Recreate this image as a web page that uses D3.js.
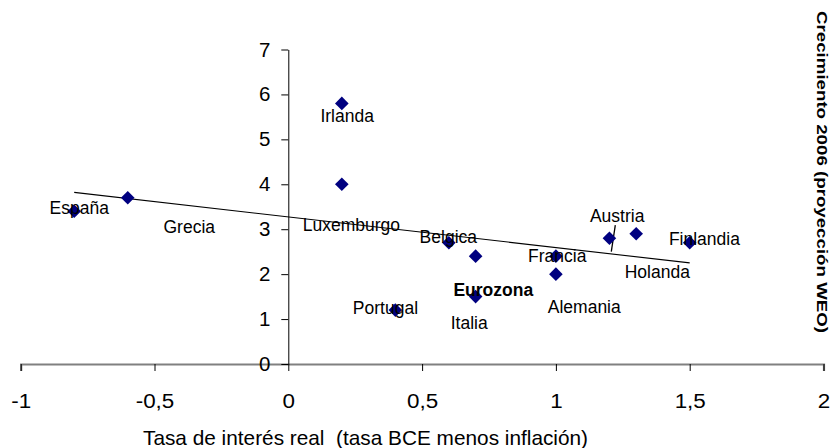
<!DOCTYPE html>
<html>
<head>
<meta charset="utf-8">
<script src="https://cdn.jsdelivr.net/npm/d3@7"></script>
<style>
  html, body { margin: 0; padding: 0; background: #fff; }
  svg { display: block; }
  svg text { font-family: Arial, "Liberation Sans", Helvetica, sans-serif; white-space: pre; }
</style>
</head>
<body>
<svg id="chart" width="836" height="448"></svg>
<script>
// ---- data ----
const countries = ["España","Grecia","Irlanda","Luxemburgo","Portugal","Belgica","Eurozona","Italia","Francia","Alemania","Austria","Holanda","Finlandia"];
const realRate  = [-0.8, -0.6, 0.2, 0.2, 0.4, 0.6, 0.7, 0.7, 1.0, 1.0, 1.2, 1.3, 1.5];
const growth    = [3.4, 3.7, 5.8, 4.0, 1.2, 2.7, 2.4, 1.5, 2.4, 2.0, 2.8, 2.9, 2.7];
// label anchor positions, in data units
const labelX    = [-0.781, -0.37, 0.22, 0.236, 0.363, 0.598, 0.766, 0.676, 1.005, 1.106, 1.229, 1.379, 1.555];
const labelY    = [3.47, 3.05, 5.52, 3.09, 1.25, 2.83, 1.65, 0.93, 2.40, 1.27, 3.29, 2.05, 2.78];
// trend line endpoints
const trendX = [-0.8, 1.5];
const trendY = [3.82, 2.25];
// Austria leader line
const leaderX = [1.222, 1.207];
const leaderY = [3.09, 2.50];
// axes
const xTickValues = [-1, -0.5, 0, 0.5, 1, 1.5, 2];
const xTickLabels = ["-1", "-0,5", "0", "0,5", "1", "1,5", "2"];
const yTickValues = [0, 1, 2, 3, 4, 5, 6, 7];
const xTitle = "Tasa de interés real  (tasa BCE menos inflación)";
const yTitle = "Crecimiento 2006 (proyección WEO)";

// ---- drawing ----
const FONT = "Arial, 'Liberation Sans', Helvetica, sans-serif";
const svg = d3.select("#chart");
const x = d3.scaleLinear().domain([-1, 2]).range([20.7, 823.5]);
const y = d3.scaleLinear().domain([0, 7]).range([364, 49.5]);

// x axis
const xAxis = svg.append("g").attr("transform", `translate(0,${y(0)})`)
  .call(d3.axisBottom(x).tickValues(xTickValues).tickSize(7).tickPadding(23)
        .tickFormat((d, i) => xTickLabels[i]));
xAxis.attr("font-family", FONT);
xAxis.select(".domain").attr("stroke", "#808080").attr("stroke-width", 2.2);
xAxis.selectAll(".tick line").attr("stroke", "#000").attr("stroke-width", 1);
xAxis.selectAll(".tick text")
  .attr("font-size", 20).attr("fill", "#000")
  .each(function() {
    const w = this.getComputedTextLength();
    d3.select(this).attr("textLength", w * 1.12).attr("lengthAdjust", "spacingAndGlyphs");
  });

// y axis
const yAxis = svg.append("g").attr("transform", `translate(${x(0)},0)`)
  .call(d3.axisLeft(y).tickValues(yTickValues).tickSize(7).tickPadding(11).tickSizeOuter(0)
        .tickFormat(d3.format("d")));
yAxis.attr("font-family", FONT);
yAxis.select(".domain").attr("stroke", "#000").attr("stroke-width", 1);
yAxis.selectAll(".tick line").attr("stroke", "#000");
yAxis.selectAll(".tick text").attr("font-size", 20.5).attr("fill", "#000");

// trend line
svg.append("line")
  .attr("x1", x(trendX[0])).attr("y1", y(trendY[0]))
  .attr("x2", x(trendX[1])).attr("y2", y(trendY[1]))
  .attr("stroke", "#000").attr("stroke-width", 1.1);

// leader line
svg.append("line")
  .attr("x1", x(leaderX[0])).attr("y1", y(leaderY[0]))
  .attr("x2", x(leaderX[1])).attr("y2", y(leaderY[1]))
  .attr("stroke", "#000").attr("stroke-width", 1.3);

// points
const pts = countries.map((c, i) => ({ c, x: realRate[i], y: growth[i], lx: labelX[i], ly: labelY[i] }));
const r = 6.8;
svg.append("g").selectAll("path").data(pts).join("path")
  .attr("d", d => `M${x(d.x)},${y(d.y) - r}L${x(d.x) + r},${y(d.y)}L${x(d.x)},${y(d.y) + r}L${x(d.x) - r},${y(d.y)}Z`)
  .attr("fill", "#000080");

// labels
svg.append("g").attr("font-family", FONT).selectAll("text").data(pts).join("text")
  .attr("x", d => x(d.lx)).attr("y", d => y(d.ly)).attr("dy", "0.36em")
  .attr("text-anchor", "middle")
  .attr("font-size", 17.5)
  .attr("font-weight", d => d.c === "Eurozona" ? "bold" : "normal")
  .attr("fill", "#000")
  .text(d => d.c);

// x title
svg.append("text")
  .attr("font-family", FONT)
  .attr("x", 143).attr("y", 438).attr("dy", "0.36em")
  .attr("text-anchor", "start").attr("font-size", 20.8).attr("fill", "#000")
  .text(xTitle);

// y title (right side, rotated)
svg.append("text")
  .attr("font-family", FONT)
  .attr("transform", "translate(822,172) rotate(90)")
  .attr("text-anchor", "middle").attr("font-size", 15).attr("font-weight", "bold")
  .attr("fill", "#000").attr("dy", "0.36em")
  .attr("textLength", 322).attr("lengthAdjust", "spacingAndGlyphs")
  .text(yTitle);
</script>
</body>
</html>
